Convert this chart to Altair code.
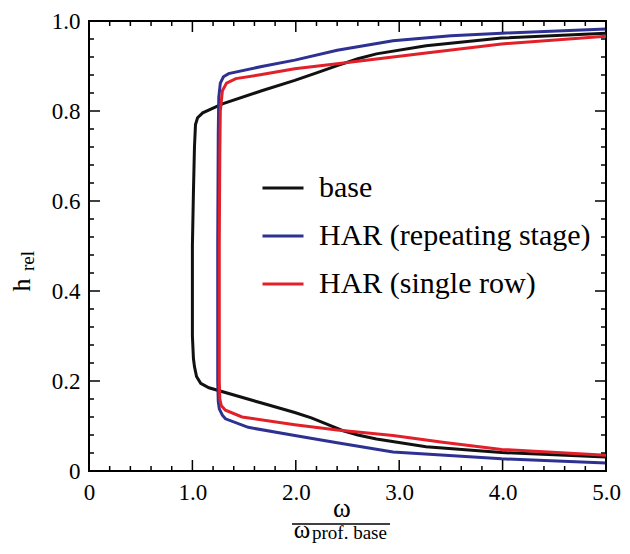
import altair as alt
import pandas as pd

# ---------------- data ----------------
series_names = ["base", "HAR (repeating stage)", "HAR (single row)"]
series_colors = ["#111111", "#2e3192", "#e2202a"]

base_x = [5.0, 3.99, 3.26, 2.78, 2.6, 2.4, 2.18, 1.99, 1.67, 1.29, 1.10, 1.05, 1.03, 1.02, 1.01, 1.0, 1.0, 1.0, 1.01, 1.02, 1.04, 1.08, 1.16, 1.67, 1.99, 2.15, 2.3, 2.45, 2.6, 2.78, 3.26, 3.99, 5.0]
base_h = [0.973, 0.962, 0.945, 0.927, 0.916, 0.901, 0.883, 0.868, 0.845, 0.816, 0.796, 0.785, 0.770, 0.72, 0.62, 0.50, 0.40, 0.30, 0.25, 0.232, 0.210, 0.195, 0.185, 0.151, 0.130, 0.118, 0.104, 0.090, 0.080, 0.071, 0.054, 0.041, 0.031]

rep_x = [5.0, 3.99, 3.5, 2.94, 2.4, 1.99, 1.67, 1.35, 1.30, 1.27, 1.255, 1.25, 1.245, 1.245, 1.245, 1.25, 1.26, 1.29, 1.32, 1.54, 1.99, 2.4, 2.94, 3.99, 5.0]
rep_h = [0.982, 0.973, 0.967, 0.956, 0.935, 0.913, 0.899, 0.883, 0.876, 0.862, 0.830, 0.75, 0.50, 0.30, 0.20, 0.155, 0.138, 0.124, 0.116, 0.097, 0.079, 0.063, 0.042, 0.027, 0.018]

single_x = [5.0, 3.99, 3.26, 2.4, 1.99, 1.67, 1.42, 1.33, 1.29, 1.27, 1.265, 1.26, 1.26, 1.26, 1.265, 1.28, 1.32, 1.48, 1.99, 2.4, 2.94, 3.42, 3.99, 5.0]
single_h = [0.966, 0.949, 0.929, 0.905, 0.894, 0.881, 0.872, 0.862, 0.845, 0.80, 0.70, 0.50, 0.30, 0.20, 0.160, 0.145, 0.135, 0.120, 0.103, 0.091, 0.079, 0.064, 0.048, 0.035]

x_major = [0, 1, 2, 3, 4, 5]
x_minor = [0.2, 0.4, 0.6, 0.8, 1.2, 1.4, 1.6, 1.8, 2.2, 2.4, 2.6, 2.8,
           3.2, 3.4, 3.6, 3.8, 4.2, 4.4, 4.6, 4.8]
y_major = [0, 0.2, 0.4, 0.6, 0.8, 1.0]
y_minor = [0.04, 0.08, 0.12, 0.16, 0.24, 0.28, 0.32, 0.36, 0.44, 0.48, 0.52, 0.56,
           0.64, 0.68, 0.72, 0.76, 0.84, 0.88, 0.92, 0.96]

# ---------------- build ----------------
rows = []
for name, xs, hs in [(series_names[0], base_x, base_h),
                     (series_names[1], rep_x, rep_h),
                     (series_names[2], single_x, single_h)]:
    for i, (xv, hv) in enumerate(zip(xs, hs)):
        rows.append({"series": name, "x": xv, "h": hv, "i": i})
df = pd.DataFrame(rows)

W, H = 517, 450
FONT = "'Liberation Serif', 'Times New Roman', Times, 'DejaVu Serif', serif"
xscale = alt.Scale(domain=[0, 5], nice=False, zero=False)
yscale = alt.Scale(domain=[0, 1], nice=False, zero=False)
lab = "datum.value == 0 ? '0' : format(datum.value, '.1f')"

xaxis = alt.Axis(values=x_major, ticks=False, domain=False, grid=False,
                 labelFont=FONT, labelFontSize=23, labelPadding=10,
                 labelColor="black", labelFlush=False, labelExpr=lab, title=None)
yaxis = alt.Axis(values=y_major, ticks=False, domain=False, grid=False,
                 labelFont=FONT, labelFontSize=23, labelPadding=9,
                 labelColor="black", labelExpr=lab, title=None)

lines = alt.Chart(df).mark_line(strokeWidth=3, clip=True).encode(
    x=alt.X("x:Q", scale=xscale, axis=xaxis, title=None),
    y=alt.Y("h:Q", scale=yscale, axis=yaxis, title=None),
    color=alt.Color("series:N",
                    scale=alt.Scale(domain=series_names, range=series_colors),
                    legend=alt.Legend(orient="none", legendX=172, legendY=145, title=None,
                                      symbolType="stroke", symbolSize=1681,
                                      symbolStrokeWidth=3, labelFont=FONT,
                                      labelFontSize=30, labelOffset=14, rowPadding=11,
                                      padding=0, labelColor="black", labelLimit=0)),
    order=alt.Order("i:Q"),
)

def xticks(vals, length):
    d = pd.DataFrame({"x": vals})
    bot = alt.Chart(d).mark_rule(color="black", strokeWidth=1.5).encode(
        x=alt.X("x:Q", scale=xscale, axis=xaxis, title=None),
        y=alt.value(H), y2=alt.value(H - length))
    top = alt.Chart(d).mark_rule(color="black", strokeWidth=1.5).encode(
        x=alt.X("x:Q", scale=xscale, axis=xaxis, title=None),
        y=alt.value(0), y2=alt.value(length))
    return [bot, top]

def yticks(vals, length):
    d = pd.DataFrame({"h": vals})
    left = alt.Chart(d).mark_rule(color="black", strokeWidth=1.5).encode(
        y=alt.Y("h:Q", scale=yscale, axis=yaxis, title=None),
        x=alt.value(0), x2=alt.value(length))
    right = alt.Chart(d).mark_rule(color="black", strokeWidth=1.5).encode(
        y=alt.Y("h:Q", scale=yscale, axis=yaxis, title=None),
        x=alt.value(W), x2=alt.value(W - length))
    return [left, right]

def label(text, x, y, size, angle=0, align="center"):
    d = pd.DataFrame({"t": [text]})
    enc = dict(text="t:N", x=alt.value(x), y=alt.value(y))
    if angle:
        enc["angle"] = alt.value(angle)
    return alt.Chart(d).mark_text(font=FONT, fontSize=size, color="black",
                                  align=align, baseline="alphabetic").encode(**enc)

frac_line = alt.Chart(pd.DataFrame({"a": [0]})).mark_rule(
    color="black", strokeWidth=1.5).encode(
    x=alt.value(203), x2=alt.value(301), y=alt.value(503))

titles = [
    label("ω", 253, 496, 27),
    frac_line,
    label("ω", 213, 517, 25),
    label("prof. base", 223, 518, 19, align="left"),
    label("h", -59, 264, 26, angle=270),
    label("rel", -55, 240, 19, angle=270),
]

chart = alt.layer(
    lines,
    *xticks(x_major, 11), *xticks(x_minor, 5),
    *yticks(y_major, 11), *yticks(y_minor, 5),
    *titles,
).properties(
    width=W, height=H,
    autosize=alt.AutoSizeParams(type="none"),
    padding={"left": 81, "top": 13, "right": 16, "bottom": 75},
    background="white",
).configure_view(stroke="black", strokeWidth=2)

chart.save("out.html", embed_options={"renderer": "svg", "actions": False})
